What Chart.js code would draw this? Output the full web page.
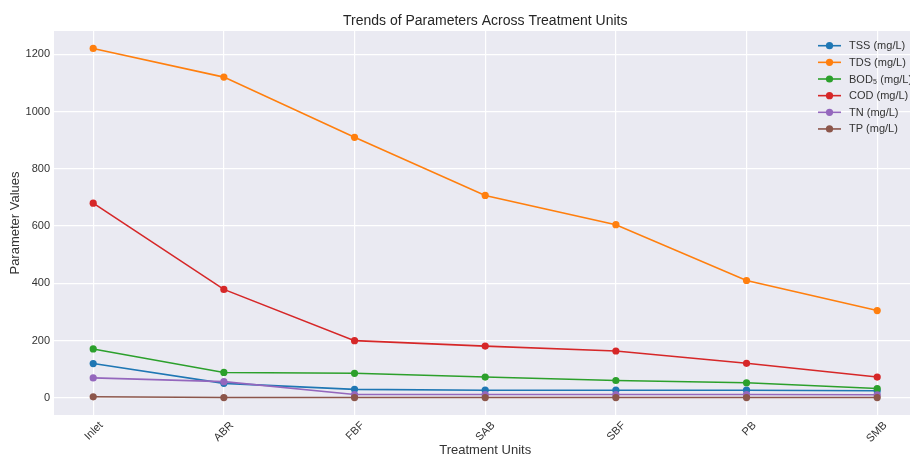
<!DOCTYPE html>
<html>
<head>
<meta charset="utf-8">
<script src="https://cdn.jsdelivr.net/npm/chart.js@4"></script>
<style>
html,body{margin:0;padding:0;background:#fff;overflow:hidden;width:910px;height:457px;}
#wrap{position:absolute;left:0;top:0;width:920px;height:457px;}
</style>
</head>
<body>
<div id="wrap"><canvas id="c" width="920" height="457"></canvas></div>
<script>
const categories = ["Inlet", "ABR", "FBF", "SAB", "SBF", "PB", "SMB"];
const seriesNames = ["TSS (mg/L)", "TDS (mg/L)", "BOD\u2085 (mg/L)", "COD (mg/L)", "TN (mg/L)", "TP (mg/L)"];
const tss = [120, 51, 30, 27, 27, 27, 25];
const tds = [1220, 1120, 910, 707, 605, 410, 305];
const bod = [171, 89, 86, 73, 61, 53, 33];
const cod = [680, 379, 200, 181, 164, 121, 73];
const tn  = [70, 57, 12, 12, 12, 12, 11];
const tp  = [4, 1.5, 1.5, 1.5, 1.5, 1.5, 1.5];
const yTicks = [0, 200, 400, 600, 800, 1000, 1200];
const colors = ["#1f77b4", "#ff7f0e", "#2ca02c", "#d62728", "#9467bd", "#8c564b"];
const allSeries = [tss, tds, bod, cod, tn, tp];

const FONT = "'Liberation Sans', Arial, sans-serif";
const TXT = "#333333";

const datasets = allSeries.map((vals, i) => ({
  label: seriesNames[i],
  data: vals.map((v, j) => ({x: j, y: v})),
  borderColor: colors[i],
  backgroundColor: colors[i],
  pointBackgroundColor: colors[i],
  pointBorderWidth: 0,
  pointRadius: 3.6,
  pointHoverRadius: 3.6,
  borderWidth: 1.6,
  tension: 0,
  fill: false,
  order: allSeries.length - i
}));

const bgPlugin = {
  id: 'bg',
  beforeDraw(chart) {
    const {ctx, chartArea: a} = chart;
    ctx.save();
    ctx.fillStyle = '#eaeaf2';
    ctx.fillRect(a.left, a.top, a.right - a.left, a.bottom - a.top);
    ctx.restore();
  }
};

const titlePlugin = {
  id: 'ttl',
  afterDraw(chart) {
    const {ctx, chartArea: a} = chart;
    ctx.save();
    ctx.font = "14px " + FONT;
    ctx.fillStyle = "#262626";
    ctx.textAlign = 'center';
    ctx.textBaseline = 'middle';
    ctx.fillText("Trends of Parameters Across Treatment Units", (a.left + a.right) / 2, 21);
    ctx.restore();
  }
};

const legendPlugin = {
  id: 'lg',
  afterDraw(chart) {
    const {ctx} = chart;
    ctx.save();
    ctx.font = "11px " + FONT;
    ctx.textBaseline = 'middle';
    ctx.textAlign = 'left';
    chart.data.datasets.forEach((ds, i) => {
      const y = 45.7 + i * 16.65;
      ctx.strokeStyle = ds.borderColor;
      ctx.lineWidth = 1.6;
      ctx.beginPath();
      ctx.moveTo(818, y);
      ctx.lineTo(841, y);
      ctx.stroke();
      ctx.fillStyle = ds.borderColor;
      ctx.beginPath();
      ctx.arc(829.5, y, 3.6, 0, Math.PI * 2);
      ctx.fill();
      ctx.fillStyle = TXT;
      ctx.fillText(ds.label, 849, y + 0.5);
    });
    ctx.restore();
  }
};

new Chart(document.getElementById('c'), {
  type: 'line',
  data: {datasets},
  plugins: [bgPlugin, titlePlugin, legendPlugin],
  options: {
    responsive: false,
    animation: false,
    events: [],
    layout: {padding: {top: 31, right: 0, left: 0, bottom: 0}},
    plugins: {legend: {display: false}, title: {display: false}, tooltip: {enabled: false}},
    scales: {
      x: {
        type: 'linear',
        min: -0.3,
        max: 6.3,
        afterBuildTicks(s) { s.ticks = categories.map((c, i) => ({value: i})); },
        afterFit(s) { s.height = 42; },
        grid: {color: '#ffffff', lineWidth: 1.2, drawTicks: false},
        border: {display: false},
        ticks: {
          autoSkip: false,
          minRotation: 45,
          maxRotation: 45,
          padding: 4,
          labelOffset: 8,
          color: TXT,
          font: {family: FONT, size: 11},
          callback: (v) => categories[v]
        },
        title: {display: true, text: 'Treatment Units', color: TXT, font: {family: FONT, size: 13, lineHeight: 1}, padding: 0}
      },
      y: {
        type: 'linear',
        min: -59.5,
        max: 1281,
        afterBuildTicks(s) { s.ticks = yTicks.map(v => ({value: v})); },
        afterFit(s) { s.width = 54; },
        grid: {color: '#ffffff', lineWidth: 1.2, drawTicks: false},
        border: {display: false},
        ticks: {
          padding: 4,
          color: TXT,
          font: {family: FONT, size: 11},
          callback: (v) => String(v)
        },
        title: {display: true, text: 'Parameter Values', color: TXT, font: {family: FONT, size: 13, lineHeight: 1.2}, padding: {top: 8, bottom: 0}}
      }
    }
  }
});
</script>
</body>
</html>
